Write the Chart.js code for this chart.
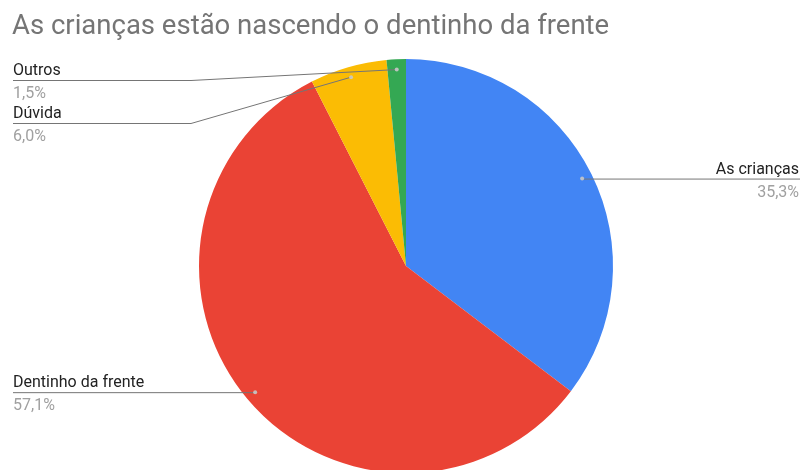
<!DOCTYPE html>
<html>
<head>
<meta charset="utf-8">
<script src="https://cdn.jsdelivr.net/npm/chart.js@4"></script>
<style>
  html, body { margin: 0; padding: 0; background: #fff; overflow: hidden; }
  #wrap { width: 801px; height: 470px; overflow: hidden; position: relative; }
  canvas { display: block; }
</style>
</head>
<body>
<div id="wrap"><canvas id="c" width="801" height="480"></canvas></div>
<script>
// Respostas da pesquisa
const chartTitle = 'As crianças estão nascendo o dentinho da frente';
const categories = ['As crianças', 'Dentinho da frente', 'Dúvida', 'Outros'];
const percentages = [35.3, 57.1, 6.0, 1.5];
const percentLabels = ['35,3%', '57,1%', '6,0%', '1,5%'];
const sliceColors = ['#4285F4', '#EA4335', '#FBBC04', '#34A853'];

// Linhas de chamada com rótulo e percentual
const calloutPlugin = {
  id: 'callouts',
  afterDatasetsDraw(chart) {
    const ctx = chart.ctx;
    const meta = chart.getDatasetMeta(0);
    const items = meta.data.map((arc, i) => {
      const mid = (arc.startAngle + arc.endAngle) / 2;
      const r = arc.outerRadius * 0.95;
      return {
        i,
        px: arc.x + Math.cos(mid) * r,
        py: arc.y + Math.sin(mid) * r,
        left: Math.cos(mid) < 0
      };
    });
    // empilha os rótulos de cada lado para não se sobreporem
    ['left', 'right'].forEach(side => {
      const group = items.filter(it => (side === 'left') === it.left).sort((a, b) => a.py - b.py);
      let prev = -Infinity;
      group.forEach(it => {
        it.ly = Math.max(it.py, prev + 43, 80);
        prev = it.ly;
      });
    });
    ctx.save();
    items.forEach(it => {
      const leftX = 13, rightX = 800;
      ctx.strokeStyle = '#757575';
      ctx.lineWidth = 1;
      ctx.beginPath();
      if (it.left) {
        const elbow = Math.abs(it.ly - it.py) > 1 ? 191 : it.px;
        ctx.moveTo(leftX, it.ly + 0.5);
        ctx.lineTo(elbow, it.ly + 0.5);
        ctx.lineTo(it.px, it.py);
      } else {
        const elbow = Math.abs(it.ly - it.py) > 1 ? 620 : it.px;
        ctx.moveTo(rightX, it.ly + 0.5);
        ctx.lineTo(elbow, it.ly + 0.5);
        ctx.lineTo(it.px, it.py);
      }
      ctx.stroke();
      ctx.fillStyle = 'rgba(200,200,200,0.9)';
      ctx.beginPath();
      ctx.arc(it.px, it.py, 2, 0, Math.PI * 2);
      ctx.fill();

      ctx.textAlign = it.left ? 'left' : 'right';
      ctx.textBaseline = 'alphabetic';
      const tx = it.left ? leftX : rightX - 1;
      ctx.font = '16px Roboto';
      ctx.fillStyle = '#222222';
      ctx.fillText(categories[it.i], tx, it.ly - 5);
      ctx.fillStyle = '#a0a0a0';
      ctx.fillText(percentLabels[it.i], tx, it.ly + 18);
    });
    ctx.restore();
  }
};

new Chart(document.getElementById('c'), {
  type: 'pie',
  data: {
    labels: categories,
    datasets: [{
      data: percentages,
      backgroundColor: sliceColors,
      borderWidth: 0
    }]
  },
  options: {
    responsive: false,
    animation: false,
    devicePixelRatio: 1,
    layout: { padding: { left: 12, right: 1, top: 0, bottom: 7 } },
    plugins: {
      legend: { display: false },
      tooltip: { enabled: false },
      title: {
        display: true,
        text: chartTitle,
        align: 'start',
        color: '#757575',
        font: { family: 'Roboto', size: 27.5, weight: 'normal', lineHeight: 1.2 },
        padding: { top: 10.5, bottom: 15.5 }
      }
    }
  },
  plugins: [calloutPlugin]
});
</script>
</body>
</html>
